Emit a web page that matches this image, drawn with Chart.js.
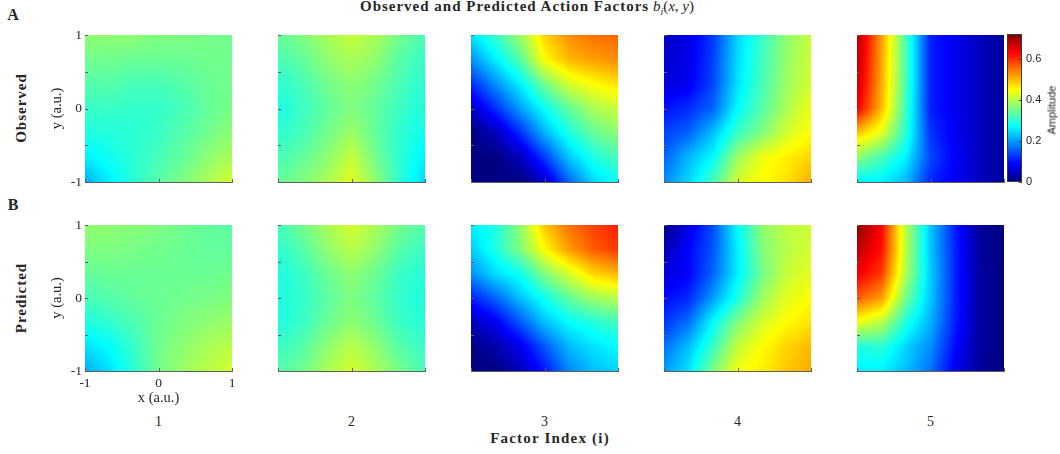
<!DOCTYPE html>
<html>
<head>
<meta charset="utf-8">
<script src="https://cdn.jsdelivr.net/npm/chart.js@4.4.1/dist/chart.umd.min.js"></script>
<style>
html, body { margin: 0; padding: 0; background: #fff; }
body { width: 1060px; height: 454px; overflow: hidden; position: relative; }
.box { position: absolute; }
.txt { position: absolute; white-space: nowrap; line-height: 1; font-family: "Liberation Serif", serif; color: #262626; }
</style>
</head>
<body>
<script>
// grid nodes of every map: x left->right, y top->bottom
const gridX = [-1, -0.667, -0.333, 0, 0.333, 0.667, 1];
const gridY = [1, 0.667, 0.333, 0, -0.333, -0.667, -1];

const colorMax = 0.72;
const cbTicks = [0, 0.2, 0.4, 0.6];
const axisTicks = [-1, 0, 1];
const yTickMarks = [-1, -0.5, 0, 0.5, 1];
const factorLabels = ["1", "2", "3", "4", "5"];

// observed factors (row A)
const obs1 = [
  [0.37, 0.37, 0.37, 0.36, 0.36, 0.355, 0.35],
  [0.35, 0.35, 0.345, 0.345, 0.345, 0.35, 0.35],
  [0.33, 0.33, 0.32, 0.32, 0.33, 0.345, 0.35],
  [0.31, 0.31, 0.305, 0.305, 0.32, 0.34, 0.355],
  [0.29, 0.295, 0.30, 0.31, 0.33, 0.35, 0.37],
  [0.26, 0.28, 0.30, 0.32, 0.34, 0.37, 0.39],
  [0.21, 0.26, 0.30, 0.33, 0.36, 0.39, 0.42]
];
const obs2 = [
  [0.34, 0.36, 0.39, 0.41, 0.39, 0.35, 0.32],
  [0.32, 0.34, 0.37, 0.39, 0.37, 0.33, 0.31],
  [0.30, 0.32, 0.35, 0.37, 0.35, 0.32, 0.30],
  [0.29, 0.31, 0.34, 0.36, 0.34, 0.31, 0.29],
  [0.30, 0.32, 0.35, 0.38, 0.34, 0.30, 0.28],
  [0.32, 0.34, 0.37, 0.41, 0.35, 0.30, 0.26],
  [0.34, 0.36, 0.39, 0.43, 0.37, 0.30, 0.24]
];
const obs3 = [
  [0.25, 0.31, 0.38, 0.48, 0.53, 0.55, 0.56],
  [0.19, 0.26, 0.33, 0.45, 0.50, 0.52, 0.53],
  [0.12, 0.19, 0.26, 0.35, 0.42, 0.45, 0.47],
  [0.05, 0.12, 0.2, 0.275, 0.34, 0.39, 0.41],
  [0.0, 0.04, 0.12, 0.215, 0.29, 0.34, 0.37],
  [0.0, 0.0, 0.04, 0.13, 0.23, 0.29, 0.32],
  [0.0, 0.0, 0.0, 0.05, 0.16, 0.24, 0.28]
];
const obs4 = [
  [0.05, 0.07, 0.13, 0.24, 0.31, 0.37, 0.41],
  [0.055, 0.075, 0.135, 0.245, 0.315, 0.375, 0.415],
  [0.065, 0.08, 0.14, 0.25, 0.32, 0.38, 0.42],
  [0.10, 0.12, 0.16, 0.27, 0.33, 0.39, 0.44],
  [0.135, 0.16, 0.225, 0.31, 0.36, 0.42, 0.45],
  [0.16, 0.22, 0.27, 0.38, 0.44, 0.46, 0.48],
  [0.19, 0.24, 0.32, 0.42, 0.45, 0.47, 0.51]
];
const obs5 = [
  [0.69, 0.52, 0.32, 0.11, 0.08, 0.045, 0.02],
  [0.68, 0.515, 0.32, 0.11, 0.08, 0.045, 0.02],
  [0.67, 0.51, 0.32, 0.11, 0.08, 0.045, 0.02],
  [0.64, 0.50, 0.31, 0.11, 0.08, 0.045, 0.02],
  [0.49, 0.43, 0.30, 0.125, 0.08, 0.045, 0.02],
  [0.37, 0.32, 0.26, 0.14, 0.085, 0.045, 0.02],
  [0.26, 0.26, 0.22, 0.115, 0.08, 0.045, 0.02]
];

// predicted factors (row B)
const pred1 = [
  [0.37, 0.37, 0.365, 0.36, 0.35, 0.34, 0.335],
  [0.36, 0.36, 0.355, 0.35, 0.345, 0.34, 0.34],
  [0.34, 0.345, 0.345, 0.345, 0.345, 0.345, 0.35],
  [0.32, 0.33, 0.34, 0.345, 0.35, 0.355, 0.36],
  [0.29, 0.305, 0.325, 0.345, 0.36, 0.37, 0.38],
  [0.25, 0.27, 0.31, 0.35, 0.37, 0.39, 0.40],
  [0.21, 0.25, 0.30, 0.35, 0.38, 0.40, 0.42]
];
const pred2 = [
  [0.32, 0.35, 0.39, 0.42, 0.39, 0.35, 0.33],
  [0.30, 0.33, 0.37, 0.40, 0.37, 0.33, 0.31],
  [0.29, 0.31, 0.345, 0.37, 0.345, 0.31, 0.295],
  [0.29, 0.305, 0.335, 0.36, 0.335, 0.305, 0.29],
  [0.29, 0.31, 0.345, 0.37, 0.345, 0.31, 0.295],
  [0.31, 0.33, 0.37, 0.40, 0.37, 0.33, 0.31],
  [0.33, 0.35, 0.39, 0.42, 0.39, 0.35, 0.32]
];
const pred3 = [
  [0.26, 0.29, 0.37, 0.49, 0.55, 0.585, 0.61],
  [0.234, 0.29, 0.36, 0.45, 0.52, 0.565, 0.59],
  [0.19, 0.245, 0.28, 0.36, 0.42, 0.48, 0.50],
  [0.11, 0.16, 0.225, 0.28, 0.34, 0.38, 0.40],
  [0.04, 0.08, 0.15, 0.225, 0.27, 0.295, 0.315],
  [0.0, 0.03, 0.075, 0.15, 0.22, 0.25, 0.27],
  [0.0, 0.0, 0.04, 0.105, 0.185, 0.225, 0.24]
];
const pred4 = [
  [0.0, 0.072, 0.144, 0.27, 0.37, 0.405, 0.41],
  [0.036, 0.09, 0.15, 0.26, 0.36, 0.40, 0.42],
  [0.063, 0.09, 0.16, 0.26, 0.35, 0.41, 0.43],
  [0.095, 0.117, 0.20, 0.29, 0.38, 0.43, 0.45],
  [0.126, 0.17, 0.27, 0.36, 0.42, 0.45, 0.47],
  [0.17, 0.225, 0.31, 0.41, 0.45, 0.48, 0.50],
  [0.20, 0.25, 0.36, 0.44, 0.46, 0.49, 0.51]
];
const pred5 = [
  [0.71, 0.63, 0.40, 0.23, 0.11, 0.018, 0.0],
  [0.68, 0.62, 0.40, 0.23, 0.115, 0.02, 0.0],
  [0.64, 0.59, 0.39, 0.235, 0.115, 0.025, 0.0],
  [0.565, 0.52, 0.35, 0.23, 0.115, 0.025, 0.0],
  [0.44, 0.40, 0.29, 0.215, 0.11, 0.025, 0.0],
  [0.29, 0.30, 0.24, 0.19, 0.095, 0.025, 0.0],
  [0.26, 0.26, 0.225, 0.17, 0.08, 0.02, 0.0]
];

const observed = [obs1, obs2, obs3, obs4, obs5];
const predicted = [pred1, pred2, pred3, pred4, pred5];

// layout
const colLeft = [85, 278, 471, 664, 857];
const rowTop = [35, 225];
const rowH = [147, 146];
const panelW = 147;
const axisColor = "#5e5e5e";
const textColor = "#262626";
const serif = "'Liberation Serif', serif";

function jet(t) {
  t = Math.max(0, Math.min(1, t));
  const c = v => Math.round(255 * Math.max(0, Math.min(1, v)));
  return [c(1.5 - Math.abs(4 * t - 3)), c(1.5 - Math.abs(4 * t - 2)), c(1.5 - Math.abs(4 * t - 1))];
}

function locate(arr, v) {
  for (let i = 0; i < arr.length - 1; i++) {
    const f = (v - arr[i]) / (arr[i + 1] - arr[i]);
    if (f >= 0 && f <= 1) return [i, f];
  }
  const first = Math.abs(v - arr[0]) < Math.abs(v - arr[arr.length - 1]);
  return first ? [0, 0] : [arr.length - 2, 1];
}

function sample(grid, xv, yv) {
  const [i, fx] = locate(gridX, xv);
  const [j, fy] = locate(gridY, yv);
  const a = grid[j][i], b = grid[j][i + 1];
  const c = grid[j + 1][i], d = grid[j + 1][i + 1];
  return (a * (1 - fx) + b * fx) * (1 - fy) + (c * (1 - fx) + d * fx) * fy;
}

const heatmapPlugin = {
  id: "heatmap",
  beforeDatasetsDraw(chart, args, opts) {
    const xs = chart.scales.x, ys = chart.scales.y;
    const left = Math.round(xs.getPixelForValue(gridX[0]));
    const right = Math.round(xs.getPixelForValue(gridX[gridX.length - 1]));
    const top = Math.round(ys.getPixelForValue(gridY[0]));
    const bottom = Math.round(ys.getPixelForValue(gridY[gridY.length - 1]));
    const w = right - left, h = bottom - top;
    const off = document.createElement("canvas");
    off.width = w; off.height = h;
    const octx = off.getContext("2d");
    const img = octx.createImageData(w, h);
    for (let py = 0; py < h; py++) {
      const yv = ys.getValueForPixel(top + py + 0.5);
      for (let px = 0; px < w; px++) {
        const xv = xs.getValueForPixel(left + px + 0.5);
        const rgb = jet(sample(opts.grid, xv, yv) / colorMax);
        const k = (py * w + px) * 4;
        img.data[k] = rgb[0]; img.data[k + 1] = rgb[1]; img.data[k + 2] = rgb[2]; img.data[k + 3] = 255;
      }
    }
    octx.putImageData(img, 0, 0);
    chart.ctx.drawImage(off, left, top);
  },
  afterDraw(chart) {
    const xs = chart.scales.x, ys = chart.scales.y, ctx = chart.ctx;
    const a = chart.chartArea;
    ctx.save();
    ctx.strokeStyle = axisColor;
    ctx.lineWidth = 1;
    ctx.beginPath();
    ys.ticks.forEach(t => {
      const py = Math.round(ys.getPixelForValue(t.value)) + 0.5;
      ctx.moveTo(a.left, py); ctx.lineTo(a.left + 3, py);
    });
    xs.ticks.forEach(t => {
      const px = Math.round(xs.getPixelForValue(t.value)) + 0.5;
      ctx.moveTo(px, a.bottom); ctx.lineTo(px, a.bottom - 3);
    });
    ctx.stroke();
    ctx.restore();
  }
};

function makePanel(row, col, grid) {
  const showY = col === 0;
  const showX = row === 1 && col === 0;
  const padL = showY ? 40 : 2, padT = 8, padR = 4, padB = showX ? 36 : 4;
  const W = padL + panelW + padR, H = padT + rowH[row] + padB;
  const cv = document.createElement("canvas");
  cv.width = W; cv.height = H;
  cv.className = "box";
  cv.style.left = (colLeft[col] - padL) + "px";
  cv.style.top = (rowTop[row] - padT) + "px";
  document.body.appendChild(cv);

  new Chart(cv.getContext("2d"), {
    type: "scatter",
    data: { datasets: [] },
    options: {
      responsive: false,
      animation: false,
      events: [],
      layout: { padding: { top: padT, right: padR, left: 0, bottom: 0 } },
      plugins: { legend: { display: false }, tooltip: { enabled: false }, heatmap: { grid } },
      scales: {
        x: {
          type: "linear", min: -1, max: 1, z: 1,
          afterBuildTicks: s => { s.ticks = axisTicks.map(v => ({ value: v })); },
          afterFit: s => { s.height = padB; s.paddingLeft = 0; s.paddingRight = 0; },
          grid: { display: false, drawTicks: false },
          border: { display: true, color: axisColor, width: 1 },
          ticks: { display: showX, autoSkip: false, maxRotation: 0, padding: 4, color: textColor,
                   font: { family: serif, size: 13.5 } },
          title: { display: showX, text: "x (a.u.)", color: textColor, padding: { top: 0, bottom: 0 },
                   font: { family: serif, size: 14.5 } }
        },
        y: {
          type: "linear", min: -1, max: 1, z: 1,
          afterBuildTicks: s => { s.ticks = yTickMarks.map(v => ({ value: v })); },
          afterFit: s => { s.width = padL; s.paddingTop = 0; s.paddingBottom = 0; },
          grid: { display: false, drawTicks: false },
          border: { display: true, color: axisColor, width: 1 },
          ticks: { display: showY, autoSkip: false, padding: 3, color: textColor,
                   font: { family: serif, size: 13.5 },
                   callback: v => (axisTicks.includes(v) ? String(v) : "") },
          title: { display: showY, text: "y (a.u.)", color: textColor, padding: { top: 3, bottom: 0 },
                   font: { family: serif, size: 14.5 } }
        }
      }
    },
    plugins: [heatmapPlugin]
  });
}

const colorbarPlugin = {
  id: "colorbar",
  beforeDatasetsDraw(chart) {
    const ys = chart.scales.y, ctx = chart.ctx, a = chart.chartArea;
    for (let py = Math.round(a.top); py < Math.round(a.bottom); py++) {
      const rgb = jet(ys.getValueForPixel(py + 0.5) / colorMax);
      ctx.fillStyle = "rgb(" + rgb.join(",") + ")";
      ctx.fillRect(a.left, py, a.right - a.left, 1);
    }
  },
  afterDraw(chart) {
    const ys = chart.scales.y, ctx = chart.ctx, a = chart.chartArea;
    ctx.save();
    ctx.strokeStyle = "#3a3a3a";
    ctx.lineWidth = 1;
    ctx.strokeRect(a.left + 0.5, a.top + 0.5, a.right - a.left - 1, a.bottom - a.top - 1);
    ctx.beginPath();
    ys.ticks.forEach(t => {
      const py = Math.round(ys.getPixelForValue(t.value)) + 0.5;
      ctx.moveTo(a.right, py); ctx.lineTo(a.right - 3, py);
    });
    ctx.stroke();
    ctx.restore();
  }
};

function makeColorbar() {
  const cv = document.createElement("canvas");
  const padT = 6, padB = 6, padL = 2, axisW = 30;
  cv.width = padL + 15 + axisW; cv.height = padT + 148 + padB;
  cv.className = "box";
  cv.style.left = (1007 - padL) + "px";
  cv.style.top = (34 - padT) + "px";
  document.body.appendChild(cv);
  new Chart(cv.getContext("2d"), {
    type: "scatter",
    data: { datasets: [] },
    options: {
      responsive: false, animation: false, events: [],
      layout: { padding: { top: padT, bottom: padB, left: padL, right: 0 } },
      plugins: { legend: { display: false }, tooltip: { enabled: false } },
      scales: {
        x: { display: false, min: 0, max: 1 },
        y: {
          type: "linear", position: "right", min: 0, max: colorMax,
          afterBuildTicks: s => { s.ticks = cbTicks.map(v => ({ value: v })); },
          afterFit: s => { s.width = axisW; s.paddingTop = 0; s.paddingBottom = 0; },
          grid: { display: false, drawTicks: false },
          border: { display: false },
          ticks: { autoSkip: false, padding: 4, color: textColor,
                   font: { family: "'Liberation Sans', sans-serif", size: 11 },
                   callback: v => (v === 0 ? "0" : v.toFixed(1)) }
        }
      }
    },
    plugins: [colorbarPlugin]
  });
}

function label(html, cx, cy, css, rot) {
  const d = document.createElement("div");
  d.className = "txt";
  d.innerHTML = html;
  d.style.cssText += css;
  d.style.left = cx + "px";
  d.style.top = cy + "px";
  d.style.transform = "translate(-50%,-50%)" + (rot ? " rotate(-90deg)" : "");
  document.body.appendChild(d);
}

for (let c = 0; c < 5; c++) {
  makePanel(0, c, observed[c]);
  makePanel(1, c, predicted[c]);
}
makeColorbar();

label('<b style="letter-spacing:1px">Observed and Predicted Action Factors</b> <i>b</i><sub style="font-size:10px"><i>i</i></sub>(<i>x</i>, <i>y</i>)',
      527, 8, "font-size:15px;");
label("<b>A</b>", 13, 15, "font-size:16px;");
label("<b>B</b>", 13, 205, "font-size:16px;");
label("<b>Observed</b>", 21, 108, "font-size:15px;letter-spacing:1px;", true);
label("<b>Predicted</b>", 21, 298, "font-size:15px;letter-spacing:1px;", true);
factorLabels.forEach((t, i) => label(t, colLeft[i] + panelW / 2, 422, "font-size:14px;"));
label("<b>Factor Index (i)</b>", 550, 438, "font-size:15px;letter-spacing:1.2px;");
label("Amplitude", 1052, 110, "font-family:'Liberation Sans',sans-serif;font-size:11px;", true);
</script>
</body>
</html>
